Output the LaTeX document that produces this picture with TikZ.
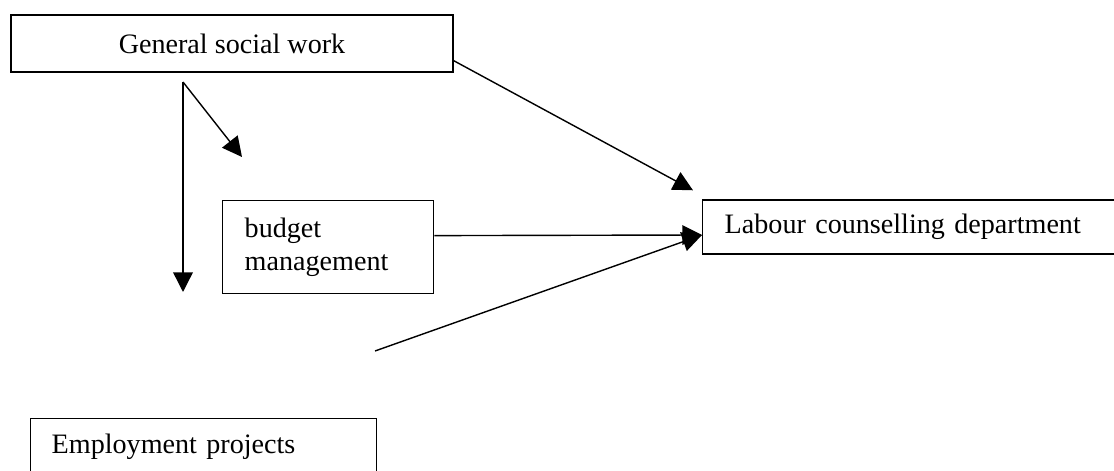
\documentclass[tikz,border=0pt]{standalone}
\usepackage{fontspec}
\setmainfont{Liberation Serif}
\usetikzlibrary{arrows.meta}

\begin{document}
\begin{tikzpicture}[-,x=0.025cm,y=-0.025cm,line width=1pt,
                    box/.style={rectangle,draw,inner sep=0pt,font=\fontsize{20}{23}\selectfont},
                    arr/.style={-{Triangle[length=14pt,width=14pt]}}]
  \useasboundingbox (0,0) rectangle (1114,471);
  %boxes%
  \node[box,minimum width=11.05cm,minimum height=1.425cm] (gsw) at (232,43.5) {General social work};
  \node[box,anchor=north west,minimum width=5.275cm,minimum height=2.325cm,
        text width=4.175cm,align=left] (bm) at (222,200) {budget\\management};
  \node[box,anchor=west,minimum height=1.35cm,inner xsep=0.55cm,
        text width=10cm,align=left] (lcd) at (702,227) {Labour counselling department};
  \node[box,anchor=north west,inner xsep=0.525cm,inner ysep=0.375cm,
        text width=7.6cm,align=left] (emp) at (30,418) {Employment projects};

  \coordinate (split) at (183,82);
  \coordinate (down) at (183,292);
  \coordinate (diag) at (242,157);
  \coordinate (loose) at (375,351);

  \path[arr]
    (split) edge (down)
            edge (diag)
    ([yshift=0.3cm]gsw.south east) edge ([shift={(-9,-9)}]lcd.north west)
    ([yshift=0.29cm]bm.east) edge ([yshift=-0.2cm]lcd.west)
    (loose) edge ([yshift=-0.2cm]lcd.west);
\end{tikzpicture}
\end{document}
